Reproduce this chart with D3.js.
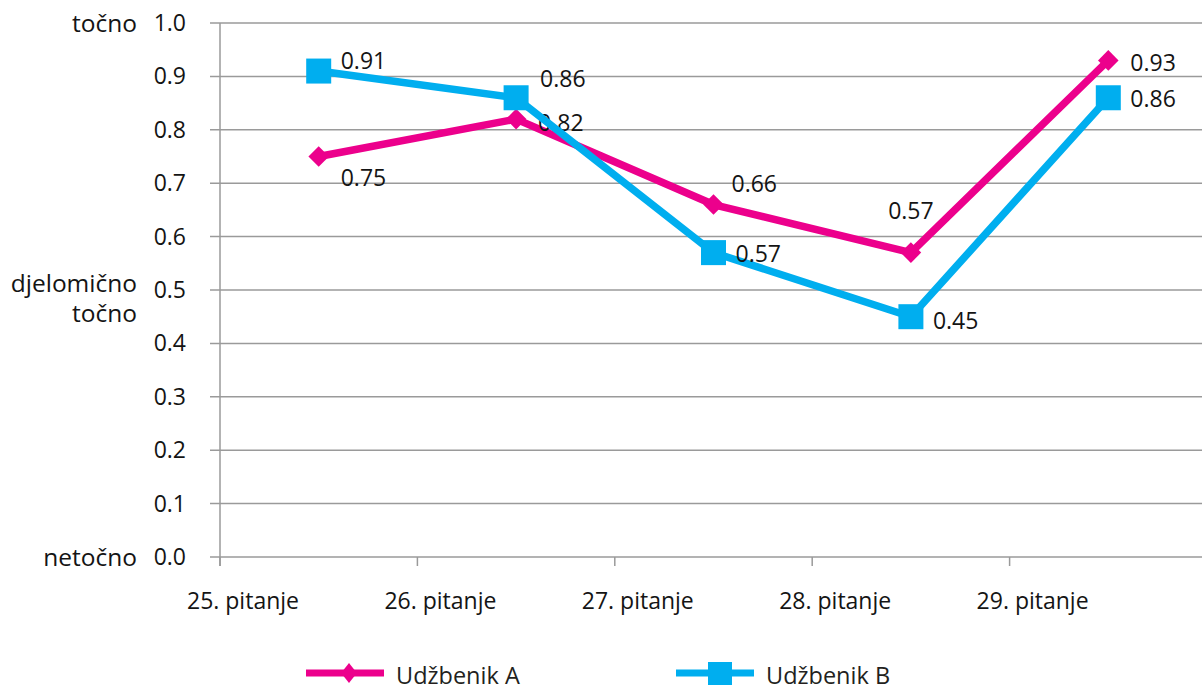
<!DOCTYPE html>
<meta charset="utf-8">
<style>
  body { margin: 0; background: #fff; }
  text { font-family: "Open Sans", sans-serif; fill: #141414; font-size: 23px; }
  text.verbal { font-size: 24.5px; }
  .grid line { stroke: #9a9a9a; stroke-width: 1.5; }
</style>
<body>
<script src="https://d3js.org/d3.v7.min.js"></script>
<script>

// data
var questions = ["25. pitanje", "26. pitanje", "27. pitanje", "28. pitanje", "29. pitanje"];
var udzbenikA = [0.75, 0.82, 0.66, 0.57, 0.93];
var udzbenikB = [0.91, 0.86, 0.57, 0.45, 0.86];
var seriesNames = ["Udžbenik A", "Udžbenik B"];
var yTicks = [0, 0.1, 0.2, 0.3, 0.4, 0.5, 0.6, 0.7, 0.8, 0.9, 1.0];

// where each value label sits relative to its point: [dx, dy, anchor]
var labelA = [[22, 21, "start"], [22, 4, "start"], [18, -21, "start"], [0, -42, "middle"], [22, 3, "start"]];
var labelB = [[22, -10, "start"], [24, -19, "start"], [22, 1, "start"], [22, 4, "start"], [22, 1, "start"]];

var W = 1202, H = 690;
var plotLeft = 220, plotRight = 1207, plotTop = 23, plotBottom = 557;

var svg = d3.select("body").append("svg")
    .attr("width", W)
    .attr("height", H);

var x = d3.scaleBand().domain(questions).range([plotLeft, plotRight]);
var y = d3.scaleLinear().domain([0, 1]).range([plotBottom, plotTop]);

// horizontal grid
var grid = svg.append("g").attr("class", "grid");
grid.selectAll("line")
    .data(yTicks)
  .enter().append("line")
    .attr("x1", plotLeft - 10)
    .attr("x2", W)
    .attr("y1", function(d) { return y(d); })
    .attr("y2", function(d) { return y(d); });

// y axis line
svg.append("line")
    .attr("x1", plotLeft).attr("x2", plotLeft)
    .attr("y1", plotTop).attr("y2", plotBottom + 9)
    .style("stroke", "#9a9a9a").style("stroke-width", 1.5);

// x ticks
svg.selectAll(".xtick")
    .data(questions)
  .enter().append("line")
    .attr("class", "xtick")
    .attr("x1", function(d) { return x(d); })
    .attr("x2", function(d) { return x(d); })
    .attr("y1", plotBottom).attr("y2", plotBottom + 9)
    .style("stroke", "#9a9a9a").style("stroke-width", 1.5);

// y tick labels
svg.selectAll(".ylab")
    .data(yTicks)
  .enter().append("text")
    .attr("class", "ylab")
    .attr("x", 186)
    .attr("y", function(d) { return y(d); })
    .attr("dy", "0.35em")
    .attr("text-anchor", "end")
    .text(function(d) { return d3.format(".1f")(d); });

// verbal scale labels
var verbal = svg.append("g").attr("text-anchor", "end");
verbal.append("text").attr("class", "verbal").attr("x", 137).attr("y", y(1)).attr("dy", "0.35em").text("točno");
verbal.append("text").attr("class", "verbal").attr("x", 137).attr("y", y(0.5) - 7).attr("dy", "0.35em").text("djelomično");
verbal.append("text").attr("class", "verbal").attr("x", 137).attr("y", y(0.5) + 23).attr("dy", "0.35em").text("točno");
verbal.append("text").attr("class", "verbal").attr("x", 137).attr("y", y(0)).attr("dy", "0.35em").text("netočno");

// x labels (shifted toward the left tick, as in the original)
svg.selectAll(".xlab")
    .data(questions)
  .enter().append("text")
    .attr("class", "xlab")
    .attr("x", function(d) { return x(d) + 23; })
    .attr("y", 601)
    .attr("dy", "0.35em")
    .attr("text-anchor", "middle")
    .text(function(d) { return d; });

var cx = function(d, i) { return x(questions[i]) + x.bandwidth() / 2; };
var line = d3.line()
    .x(function(d, i) { return cx(d, i); })
    .y(function(d) { return y(d); });

var diamond = d3.symbol().type(d3.symbolDiamond2).size(270);

function drawSeries(values, color, labels, marker) {
  var g = svg.append("g");
  g.append("path")
      .datum(values)
      .attr("d", line)
      .style("fill", "none")
      .style("stroke", color)
      .style("stroke-width", 7.5)
      .style("stroke-linejoin", "miter");

  if (marker == "diamond") {
    g.selectAll(".m")
        .data(values)
      .enter().append("path")
        .attr("transform", function(d, i) { return "translate(" + cx(d, i) + "," + y(d) + ")"; })
        .attr("d", diamond)
        .style("fill", color);
  } else {
    g.selectAll(".m")
        .data(values)
      .enter().append("rect")
        .attr("x", function(d, i) { return cx(d, i) - 12.5; })
        .attr("y", function(d) { return y(d) - 12.5; })
        .attr("width", 25).attr("height", 25)
        .style("fill", color);
  }

  g.selectAll(".lab")
      .data(values)
    .enter().append("text")
      .attr("x", function(d, i) { return cx(d, i) + labels[i][0]; })
      .attr("y", function(d, i) { return y(d) + labels[i][1]; })
      .attr("dy", "0.35em")
      .attr("text-anchor", function(d, i) { return labels[i][2]; })
      .text(function(d) { return d3.format(".2f")(d); });
}

drawSeries(udzbenikA, "#ec008c", labelA, "diamond");
drawSeries(udzbenikB, "#00aeef", labelB, "square");

// legend
var legend = svg.append("g");
var legItems = [
  {name: seriesNames[0], color: "#ec008c", x: 306, marker: "diamond"},
  {name: seriesNames[1], color: "#00aeef", x: 676, marker: "square"}
];
legItems.forEach(function(it) {
  legend.append("line")
      .attr("x1", it.x).attr("x2", it.x + 78)
      .attr("y1", 673).attr("y2", 673)
      .style("stroke", it.color).style("stroke-width", 7);
  if (it.marker == "diamond") {
    legend.append("path")
        .attr("transform", "translate(" + (it.x + 43) + ",673) scale(0.8,1)")
        .attr("d", d3.symbol().type(d3.symbolDiamond2).size(250))
        .style("fill", it.color);
  } else {
    legend.append("rect")
        .attr("x", it.x + 32).attr("y", 662)
        .attr("width", 24).attr("height", 23)
        .style("fill", it.color);
  }
  legend.append("text")
      .attr("x", it.x + 90).attr("y", 676)
      .attr("dy", "0.35em")
      .style("fill", "#231f20")
      .style("font-size", "23.5px")
      .text(it.name);
});

</script>
</body>
</html>
